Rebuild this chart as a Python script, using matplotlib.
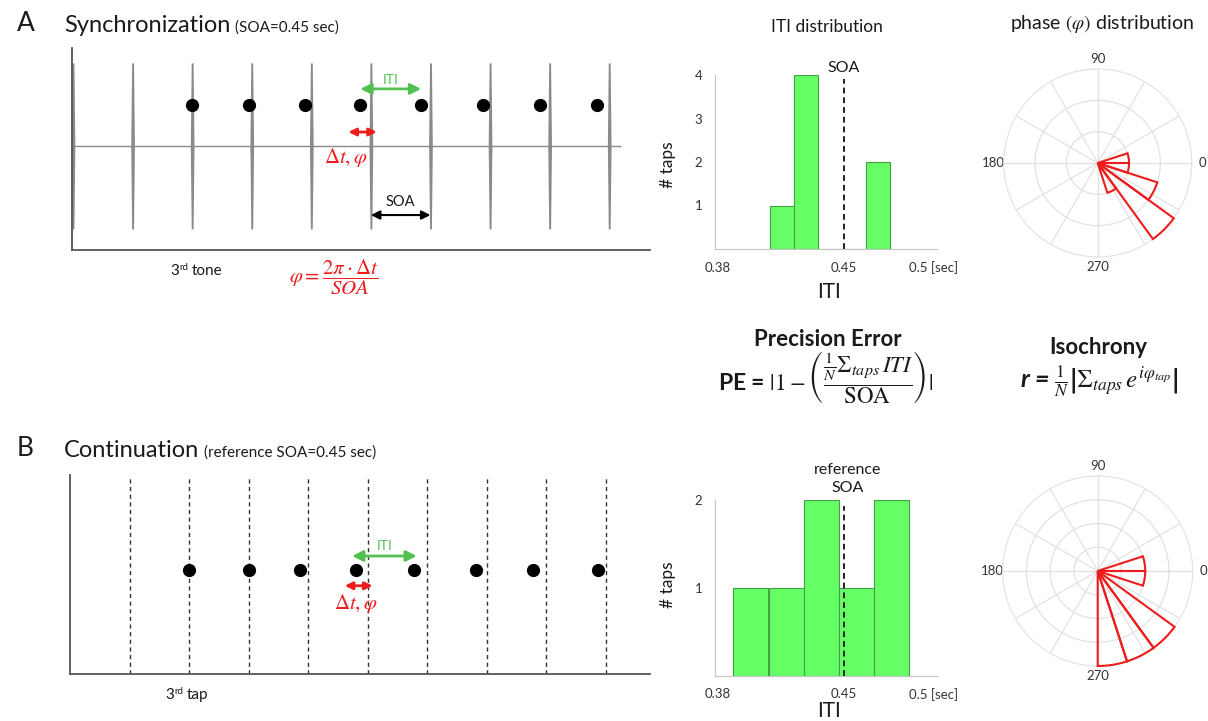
import numpy as np
import matplotlib
matplotlib.use("Agg")
import matplotlib.pyplot as plt

plt.rcParams['font.family'] = ['Lato', 'DejaVu Sans']
plt.rcParams['mathtext.fontset'] = 'stix'

W, H = 1208, 721

# ---- data ----
soa = 0.45
tone_times = [0.0, 0.45, 0.90, 1.35, 1.80, 2.25, 2.70, 3.15, 3.60, 4.05]
sync_taps = [0.90, 1.33, 1.75, 2.17, 2.63, 3.10, 3.53, 3.96]
cont_taps = [0.90, 1.35, 1.74, 2.16, 2.60, 3.07, 3.50, 3.99]

sync_iti_edges = [0.4089, 0.4222, 0.4356, 0.4489, 0.4622]
sync_iti_counts = [1, 4, 0, 0, 2]
sync_iti_width = 0.0133
cont_iti_edges = [0.3885, 0.4082, 0.4276, 0.4471, 0.4665]
cont_iti_counts = [1, 1, 2, 1, 2]
cont_iti_width = 0.0195
iti_ticks = [0.38, 0.45, 0.5]
iti_ticklabels = ['0.38', '0.45', '0.5 [sec]']

phase_bin_starts = [0, -18, -36, -54, -72, -90]   # degrees
phase_bin_width = 18
sync_phase_counts = [1, 1, 2, 3, 1, 0]
cont_phase_counts = [2, 2, 0, 4, 4, 4]

GREEN = '#52c152'
RED = '#ee1c1c'
DARK = '#1a1a1a'


def fx(px):
    return px / W


def fy(py):
    return 1 - py / H


fig = plt.figure(figsize=(W / 100, H / 100), dpi=100)
renderer = fig.canvas.get_renderer()


def panel_title(letter, title, sub, y):
    fig.text(fx(17), fy(y - 1), letter, fontsize=19, va='baseline', color=DARK)
    t = fig.text(fx(64), fy(y), title, fontsize=17, va='baseline', color=DARK)
    bb = t.get_window_extent(renderer=renderer)
    fig.text((bb.x1 + 5) / W, fy(y), sub, fontsize=11, va='baseline', color=DARK)


def ordinal_label(px, py, word):
    # "3rd tone" with a raised "rd"
    t1 = fig.text(fx(px), fy(py), '3', fontsize=11, va='baseline', color=DARK)
    bb = t1.get_window_extent(renderer=renderer)
    t2 = fig.text((bb.x1 + 0.5) / W, fy(py - 5), 'rd', fontsize=7, va='baseline', color=DARK)
    bb = t2.get_window_extent(renderer=renderer)
    fig.text((bb.x1 + 3) / W, fy(py), word, fontsize=11, va='baseline', color=DARK)


def timeline(rect, xlim):
    ax = fig.add_axes(rect)
    ax.set_xlim(*xlim)
    ax.set_ylim(0, 1)
    for s in ['top', 'right']:
        ax.spines[s].set_visible(False)
    for s in ['left', 'bottom']:
        ax.spines[s].set_color('#555555')
        ax.spines[s].set_linewidth(1.3)
    ax.set_xticks([])
    ax.set_yticks([])
    ax.patch.set_alpha(0)
    return ax


def arrow(ax, x1, x2, y, color, lw, scale):
    ax.annotate('', xy=(x2, y), xytext=(x1, y),
                arrowprops=dict(arrowstyle='<|-|>', color=color, lw=lw,
                                mutation_scale=scale, shrinkA=0, shrinkB=0),
                annotation_clip=False)


DT_PHI = r'$\mathrm{\Delta} t, \varphi$'

# ---------------- A: synchronization timeline ----------------
panel_title('A', 'Synchronization', '(SOA=0.45 sec)', 32)
axA = timeline([fx(71.7), fy(249.5), (650 - 71.7) / W, (249.5 - 48) / H],
               (-0.0098, 4.358))

ys = np.linspace(0.102, 0.926, 60)
half = 0.007 + 0.007 * (1 - np.abs(ys - 0.514) / 0.412)
for t in tone_times:
    axA.fill_betweenx(ys, t - half, t + half, color='#8a8a8a', lw=0)
axA.hlines(0.514, -0.0098, tone_times[-1] + 0.09, color='#8a8a8a', lw=1)
axA.plot(sync_taps, [0.717] * len(sync_taps), 'o', color='black', ms=8.5)

arrow(axA, sync_taps[3], sync_taps[4], 0.797, GREEN, 2, 16)
axA.text((sync_taps[3] + sync_taps[4]) / 2, 0.841, 'ITI', color=GREEN,
         fontsize=10, ha='center', va='center')
arrow(axA, sync_taps[3] - 0.09, tone_times[5] + 0.045, 0.583, RED, 2, 11)
axA.text(sync_taps[3] - 0.11, 0.459, DT_PHI, color=RED,
         fontsize=15, ha='center', va='center')
arrow(axA, tone_times[5], tone_times[6], 0.171, 'black', 1.5, 13)
axA.text((tone_times[5] + tone_times[6]) / 2, 0.235, 'SOA', fontsize=10.5,
         ha='center', va='center', color=DARK)
ordinal_label(170, 275, 'tone')
axA.text(1.97, -0.14, r'$\varphi = \dfrac{2\pi \cdot \mathrm{\Delta} t}{SOA}$',
         color=RED, fontsize=15, ha='center', va='center')

# ---------------- B: continuation timeline ----------------
panel_title('B', 'Continuation', '(reference SOA=0.45 sec)', 457)
axB = timeline([fx(69.7), fy(673.5), (650 - 69.7) / W, (673.5 - 475) / H],
               (-0.005, 4.383))
axB.vlines(tone_times[1:], 0, 0.99, colors='#333333', linestyles=(0, (3, 2.5)), lw=1)
axB.plot(cont_taps, [0.521] * len(cont_taps), 'o', color='black', ms=8.5)
arrow(axB, cont_taps[3] - 0.03, cont_taps[4] + 0.02, 0.592, GREEN, 2, 16)
axB.text((cont_taps[3] + cont_taps[4]) / 2, 0.642, 'ITI', color=GREEN,
         fontsize=10, ha='center', va='center')
arrow(axB, cont_taps[3] - 0.085, tone_times[5] + 0.035, 0.442, RED, 2, 11)
axB.text(cont_taps[3], 0.355, DT_PHI, color=RED,
         fontsize=15, ha='center', va='center')
ordinal_label(165, 699, 'tap')


# ---------------- ITI histograms ----------------
def iti_hist(rect, edges, counts, width, ymax, soa_top):
    ax = fig.add_axes(rect)
    ax.bar(edges, counts, width=width, align='edge', color='#66ff66',
           edgecolor='#44a044', linewidth=0.8)
    ax.vlines(soa, 0, soa_top, colors='#222222', linestyles=(0, (3, 2)), lw=1.4)
    ax.set_xlim(0.3783, 0.5017)
    ax.set_ylim(0, ymax)
    ax.set_xticks(iti_ticks, iti_ticklabels)
    ax.set_yticks(range(1, ymax + 1))
    ax.tick_params(length=0, labelsize=9.5, colors='#333333')
    ax.tick_params(axis='x', pad=9)
    ax.tick_params(axis='y', pad=9)
    for s in ['top', 'right']:
        ax.spines[s].set_visible(False)
    for s in ['left', 'bottom']:
        ax.spines[s].set_color('#c4c4c4')
    return ax


hA = iti_hist([fx(715), fy(249), 222 / W, 174 / H], sync_iti_edges,
              sync_iti_counts, sync_iti_width, 4, 3.91)
hA.text(soa, 4.17, 'SOA', fontsize=11.5, ha='center', va='center', color=DARK)
fig.text(fx(827), fy(32), 'ITI distribution', fontsize=12.5, ha='center',
         va='baseline', color=DARK)
fig.text(fx(668), fy(165), '# taps', fontsize=12.5, rotation=90, ha='center',
         va='center', color=DARK)
fig.text(fx(829), fy(292), 'ITI', fontsize=15, ha='center', va='center', color=DARK)

hB = iti_hist([fx(715), fy(676), 222 / W, 176 / H], cont_iti_edges,
              cont_iti_counts, cont_iti_width, 2, 1.93)
hB.text(soa + 0.002, 2.24, 'reference\nSOA', fontsize=11.5, ha='center',
        va='center', linespacing=1.4, color=DARK)
fig.text(fx(668), fy(585), '# taps', fontsize=12.5, rotation=90, ha='center',
         va='center', color=DARK)
fig.text(fx(829), fy(711), 'ITI', fontsize=15, ha='center', va='center', color=DARK)


# ---------------- phase roses ----------------
def phase_rose(rect, counts, rmax):
    ax = fig.add_axes(rect, projection='polar')
    ax.set_axisbelow(True)
    ax.bar(np.deg2rad(phase_bin_starts), counts, width=np.deg2rad(phase_bin_width),
           align='edge', fill=False, edgecolor=RED, linewidth=1.5, clip_on=False,
           zorder=5)
    ax.set_ylim(0, rmax)
    ax.set_yticks(range(1, rmax))
    ax.set_yticklabels([])
    angles = list(range(0, 360, 30))
    labels = [str(a) if a % 90 == 0 else '' for a in angles]
    ax.set_thetagrids(angles, labels)
    ax.tick_params(axis='x', labelsize=9.5, colors='#333333', pad=-3)
    ax.grid(color='#e2e2e2', lw=0.9)
    ax.spines['polar'].set_color('#e2e2e2')
    ax.spines['polar'].set_zorder(1)
    return ax


phase_rose([fx(1003.7), fy(257), 188 / W, 188 / H], sync_phase_counts, 3)
phase_rose([fx(1002.7), fy(666), 190 / W, 190 / H], cont_phase_counts, 4)
fig.text(fx(1102), fy(29), r'phase $(\varphi)$ distribution', fontsize=14,
         ha='center', va='baseline', color=DARK)

# ---------------- measures ----------------
fig.text(fx(828), fy(340), 'Precision Error', fontsize=16, fontweight='bold',
         ha='center', va='center', color=DARK)
fig.text(fx(826), fy(377),
         r'PE = $|1-\left(\dfrac{\frac{1}{N}\Sigma_{taps}\, ITI}{\mathrm{SOA}}\right)|$',
         fontsize=16.5, fontweight='bold', ha='center', va='center', color=DARK)
fig.text(fx(1098), fy(347), 'Isochrony', fontsize=16, fontweight='bold',
         ha='center', va='center', color=DARK)
fig.text(fx(1099), fy(381),
         r'r = $\frac{1}{N}\left|\Sigma_{taps}\, e^{i\varphi_{tap}}\right|$',
         fontsize=18, fontweight='bold', style='italic', ha='center', va='center',
         color=DARK)

fig.savefig('out.png', dpi=100)
